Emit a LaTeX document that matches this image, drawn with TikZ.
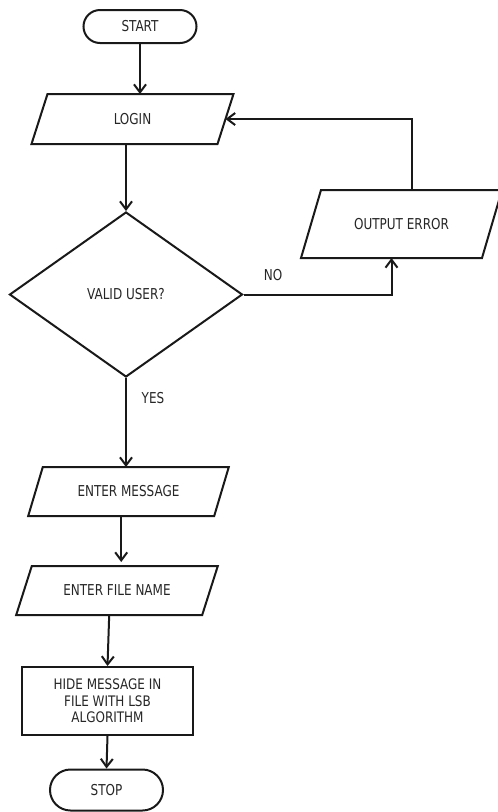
\documentclass[tikz,border=0pt]{standalone}
\usepackage{fontspec}
\setmainfont[FakeStretch=0.89]{DejaVu Sans Condensed}
\newfontfamily\hidefont[FakeStretch=0.92]{DejaVu Sans Condensed}
\usetikzlibrary{shapes.geometric,shapes.misc,arrows.meta}
\newcommand\ioshape[2]{\draw[line join=miter] ([xshift=#2]#1.north west) -- ([xshift=#2]#1.north east)
  -- ([xshift=-#2]#1.south east) -- ([xshift=-#2]#1.south west) -- cycle;}
\begin{document}
\begin{tikzpicture}[x=1pt,y=-1pt,
  line width=2pt, draw=black!90,
  every node/.style={font=\fontsize{15}{16}\selectfont, inner sep=0pt, text=black!85},
  term/.style={rounded rectangle, draw, minimum width=113pt},
  io/.style={rectangle, minimum width=184pt},
  proc/.style={rectangle, draw, minimum width=171pt, minimum height=68pt, align=center,
    font=\hidefont\fontsize{14.5}{16.5}\selectfont},
  decis/.style={diamond, draw, minimum width=233pt, minimum height=165pt, aspect=1.41},
  flow/.style={-{Straight Barb[length=8pt,width=12pt]}},
  lbl/.style={}]
\useasboundingbox (0,0) rectangle (498,812);

\node[term, minimum height=33pt] (start) at (140,26.5) {START};
\node[io, minimum height=48pt] (login) at (132.5,119) {LOGIN};
\node[decis] (dec) at (126,294.5) {VALID USER?};
\node[io, minimum width=179pt, minimum height=66pt] (err) at (401.5,224) {OUTPUT ERROR};
\node[io, minimum height=47pt] (msg) at (128.5,491.5) {ENTER MESSAGE};
\node[io, minimum height=47pt] (file) at (117,590.5) {ENTER FILE NAME};
\node[proc] (hide) at (107.5,701) {HIDE MESSAGE IN\\FILE WITH LSB\\ALGORITHM};
\node[term, minimum height=41pt] (stop) at (106.5,790) {STOP};

\ioshape{login}{8pt}
\ioshape{err}{10pt}
\ioshape{msg}{7.3pt}
\ioshape{file}{7.8pt}

\node[lbl] (no) at (273,275) {NO};
\node[lbl] (yes) at (153,398) {YES};

\draw[flow] (start.south) -- (start.south |- login.north);
\draw[flow] (dec.north |- login.south) -- (dec.north);
\draw[flow] (dec.east) -| ([xshift=-10pt]err.south);
\draw[flow] ([xshift=10pt]err.north) |- (login.east);
\draw[flow] (dec.south) -- (dec.south |- msg.north);
\draw[flow] ([xshift=-7.3pt]msg.south) -- ([xshift=-7.3pt,yshift=4pt]msg.south |- file.north);
\draw[flow] ([xshift=-7.8pt]file.south) -- (hide.north);
\draw[flow] (hide.south) -- (stop.north);
\end{tikzpicture}
\end{document}
